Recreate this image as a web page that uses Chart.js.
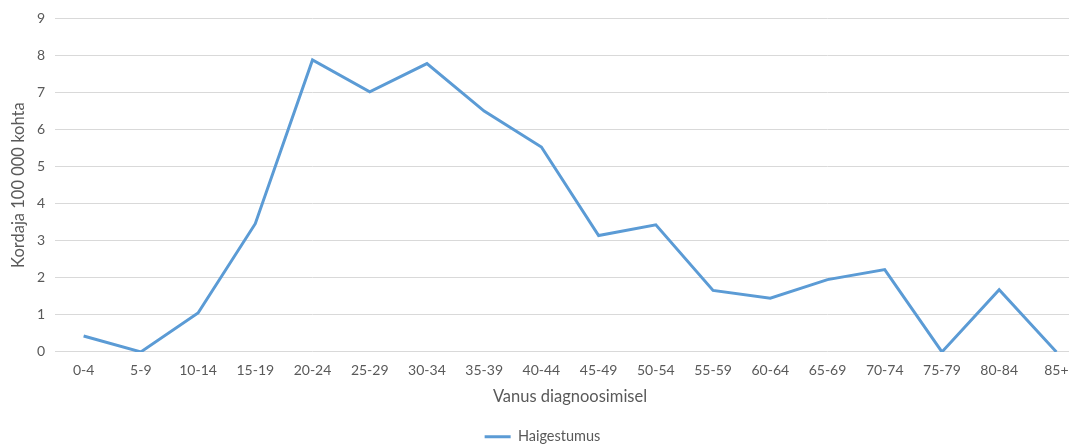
<!DOCTYPE html>
<html>
<head>
<meta charset="utf-8">
<script src="https://cdn.jsdelivr.net/npm/chart.js@4/dist/chart.umd.min.js"></script>
<style>
  html, body { margin: 0; padding: 0; background: #fff; overflow: hidden; }
  #wrap { position: absolute; left: 0; top: 0; width: 1085px; height: 454px; }
</style>
</head>
<body>
<div id="wrap"><canvas id="chart"></canvas></div>
<script>
// vanuserühmad ja haigestumus 100 000 kohta
const ageGroups = ['0-4', '5-9', '10-14', '15-19', '20-24', '25-29', '30-34', '35-39', '40-44',
  '45-49', '50-54', '55-59', '60-64', '65-69', '70-74', '75-79', '80-84', '85+'];
const incidence = [0.43, 0, 1.05, 3.46, 7.88, 7.02, 7.78, 6.5, 5.53,
  3.14, 3.43, 1.66, 1.45, 1.95, 2.22, 0, 1.68, 0];
const seriesName = 'Haigestumus';
const yTitle = 'Kordaja 100 000 kohta';
const xTitle = 'Vanus diagnoosimisel';

const font = 'Lato, "Open Sans", sans-serif';
const grey = '#595959';

new Chart(document.getElementById('chart'), {
  type: 'line',
  data: {
    labels: ageGroups,
    datasets: [{
      label: seriesName,
      data: incidence,
      borderColor: '#5b9bd5',
      backgroundColor: '#5b9bd5',
      borderWidth: 3,
      pointRadius: 0,
      tension: 0
    }]
  },
  options: {
    responsive: true,
    maintainAspectRatio: false,
    animation: false,
    layout: { padding: { top: 10, left: 0, right: 0, bottom: 0 } },
    plugins: {
      legend: {
        position: 'bottom',
        labels: {
          usePointStyle: true,
          pointStyle: 'line',
          pointStyleWidth: 26,
          color: grey,
          font: { family: font, size: 14.5 },
          padding: 3
        }
      },
      tooltip: { enabled: false }
    },
    scales: {
      x: {
        offset: true,
        grid: { display: false },
        border: { display: false },
        ticks: { color: grey, font: { family: font, size: 14 }, maxRotation: 0, padding: 2 },
        title: { display: true, text: xTitle, color: grey, font: { family: font, size: 16.5 }, padding: { top: 6, bottom: 20 } }
      },
      y: {
        min: 0,
        max: 9,
        ticks: { stepSize: 1, color: grey, font: { family: font, size: 14 }, padding: 10 },
        grid: { color: '#d9d9d9', lineWidth: 1, drawTicks: false },
        border: { display: false },
        title: { display: true, text: yTitle, color: grey, font: { family: font, size: 16.5 }, padding: { top: 9, bottom: 6 } },
        afterFit: function (scale) { scale.width = 55; }
      }
    }
  }
});
</script>
</body>
</html>
